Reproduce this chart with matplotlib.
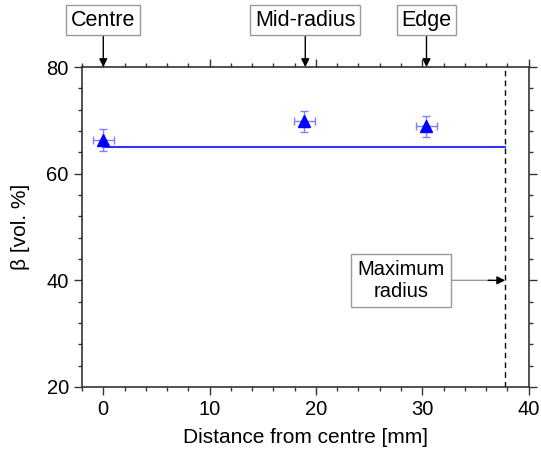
import matplotlib.pyplot as plt
from matplotlib.ticker import MultipleLocator

plt.rcParams['font.family'] = ['Liberation Sans', 'DejaVu Sans']

# measured points
dist = [0.0, 18.9, 30.4]
beta = [66.3, 69.8, 68.9]
beta_err = [2.0, 2.0, 2.0]
dist_err = [1.0, 1.0, 1.0]

mean_beta = 65.0
max_radius = 37.8

pos_labels = ['Centre', 'Mid-radius', 'Edge']
pos_x = [0.0, 19.0, 30.4]

fig = plt.figure(figsize=(5.41, 4.53), dpi=100)
ax = fig.add_axes([0.1516, 0.1457, 0.8254, 0.7063])

ax.errorbar(dist, beta, yerr=beta_err, xerr=dist_err, fmt='none',
            ecolor='#7f7fff', elinewidth=1, capsize=3, capthick=1, zorder=3)
ax.plot(dist, beta, linestyle='none', marker='^', ms=8, color='#0000ff', zorder=4)
ax.plot([dist[0], max_radius], [mean_beta, mean_beta], color='#3333ff', lw=1.5, zorder=2)
ax.axvline(max_radius, color='black', ls=(0, (4, 3)), lw=1)

ax.set_xlim(-2, 40)
ax.set_ylim(20, 80)
ax.xaxis.set_major_locator(MultipleLocator(10))
ax.xaxis.set_minor_locator(MultipleLocator(2))
ax.yaxis.set_major_locator(MultipleLocator(20))
ax.yaxis.set_minor_locator(MultipleLocator(4))
ax.tick_params(which='both', direction='out', top=True, right=True, labelsize=14.5,
               color='#333333')
ax.tick_params(which='major', length=6, width=1)
ax.tick_params(which='minor', length=3, width=1)
for s in ax.spines.values():
    s.set_linewidth(1.2)
    s.set_color('#333333')

ax.set_xlabel('Distance from centre [mm]', fontsize=15, labelpad=6)
ax.set_ylabel('β [vol. %]', fontsize=15, labelpad=12)

box = dict(boxstyle='square,pad=0.22', fc='white', ec='#999999', lw=1)
for lab, xp in zip(pos_labels, pos_x):
    ax.annotate(lab, xy=(xp, 80), xytext=(xp, 88.8), ha='center', va='center',
                fontsize=15.5, bbox=box, annotation_clip=False,
                arrowprops=dict(arrowstyle='-|>', color='black', lw=1,
                                mutation_scale=12, shrinkA=0, shrinkB=0))

# maximum radius label: grey leader line, black head
ax.annotate('Maximum\nradius', xy=(max_radius - 1.2, 40), xytext=(28.0, 40),
            ha='center', va='center', fontsize=14.5,
            bbox=dict(boxstyle='square,pad=0.3', fc='white', ec='#999999', lw=1),
            arrowprops=dict(arrowstyle='-', color='#999999', lw=1,
                            shrinkA=0, shrinkB=0))
ax.annotate('', xy=(max_radius, 40), xytext=(max_radius - 1.6, 40),
            arrowprops=dict(arrowstyle='-|>', color='black', lw=1,
                            mutation_scale=12, shrinkA=0, shrinkB=0))

fig.savefig('out.png', dpi=100)
